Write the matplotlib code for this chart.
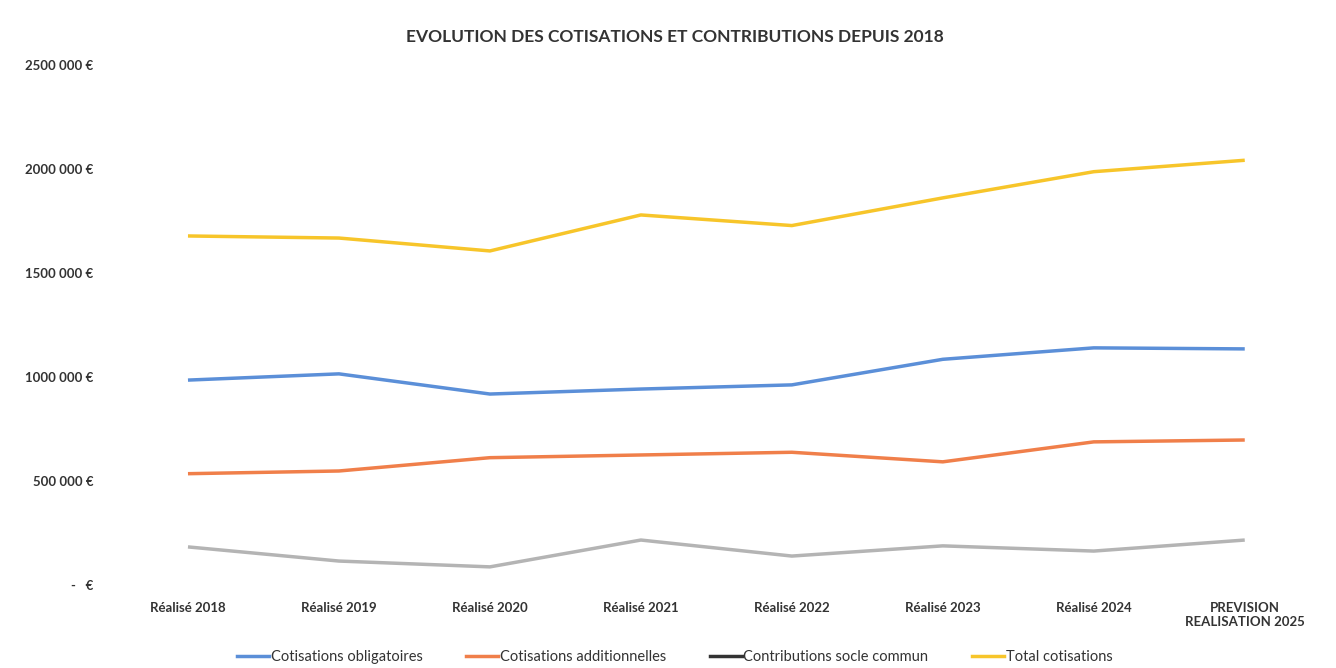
import matplotlib.pyplot as plt
from matplotlib.lines import Line2D
from matplotlib.ticker import FuncFormatter

plt.rcParams['font.family'] = ['Lato', 'DejaVu Sans']

annees = ["Réalisé 2018", "Réalisé 2019", "Réalisé 2020", "Réalisé 2021",
          "Réalisé 2022", "Réalisé 2023", "Réalisé 2024", "PREVISION\nREALISATION 2025"]

obligatoires = [985000, 1015000, 918000, 942000, 962000, 1085000, 1140000, 1135000]
additionnelles = [535000, 548000, 612000, 625000, 638000, 592000, 688000, 697000]
socle_commun = [183000, 115000, 87000, 216000, 139000, 188000, 163000, 216000]
total = [1678000, 1668000, 1606000, 1779000, 1728000, 1861000, 1987000, 2042000]

c_bleu = "#5b8fd8"
c_orange = "#f07f4a"
c_gris = "#b4b4b4"
c_jaune = "#f7c52a"

fig = plt.figure(figsize=(13.36, 6.68), dpi=100)
ax = fig.add_axes([0.0842, 0.1243, 0.904, 0.7784])

x = range(len(annees))
ax.plot(x, obligatoires, color=c_bleu, lw=2.5, solid_capstyle="butt")
ax.plot(x, additionnelles, color=c_orange, lw=2.5, solid_capstyle="butt")
ax.plot(x, socle_commun, color=c_gris, lw=2.5, solid_capstyle="butt")
ax.plot(x, total, color=c_jaune, lw=2.5, solid_capstyle="butt")

ax.set_xlim(-0.5, len(annees) - 0.5)
ax.set_ylim(0, 2500000)
ax.set_yticks(range(0, 2500001, 500000))


def euros(v, pos):
    if v == 0:
        return "-   €"
    s = f"{int(v):,}".replace(",", " ")
    # format Excel : pas d'espace après le premier groupe de millions
    if v >= 1000000:
        s = s.replace(" ", "", 1)
    return s + " €"


ax.yaxis.set_major_formatter(FuncFormatter(euros))
ax.set_xticks(list(x))
ax.set_xticklabels(annees, fontsize=9.5, fontweight="bold", color="#333333")
for lab in ax.get_yticklabels():
    lab.set_fontsize(9.5)
    lab.set_fontweight("bold")
    lab.set_color("#333333")
ax.tick_params(length=0, pad=14)
ax.tick_params(axis="x", pad=12)
for sp in ax.spines.values():
    sp.set_visible(False)

fig.text(0.505, 0.945, "EVOLUTION DES COTISATIONS ET CONTRIBUTIONS DEPUIS 2018",
         ha="center", va="center", fontsize=12.5, fontweight="bold", color="#333333")

handles = [Line2D([], [], color=c_bleu, lw=2.5),
           Line2D([], [], color=c_orange, lw=2.5),
           Line2D([], [], color="#333333", lw=2.5),
           Line2D([], [], color=c_jaune, lw=2.5)]
noms = ["Cotisations obligatoires", "Cotisations additionnelles",
        "Contributions socle commun", "Total cotisations"]
fig.legend(handles, noms, loc="center", bbox_to_anchor=(0.505, 0.017), ncol=4,
           frameon=False, fontsize=10.5, handlelength=2.2, handletextpad=0.1,
           columnspacing=3.0, labelcolor="#333333")

fig.savefig("out.png", dpi=100)
